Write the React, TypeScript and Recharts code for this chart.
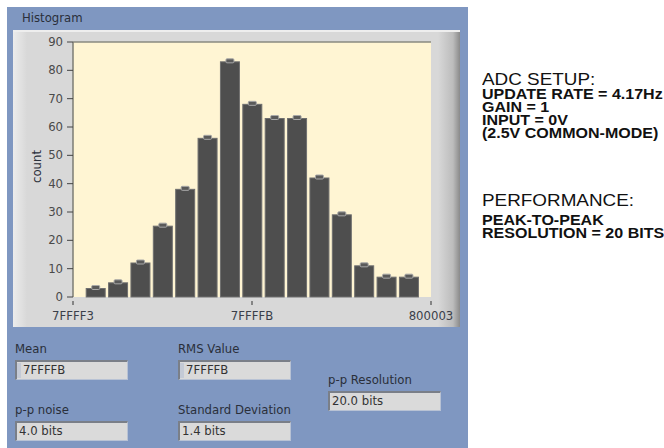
import { BarChart, Bar, XAxis, YAxis, CartesianGrid, ReferenceLine } from 'recharts';

// output codes (hex) and how many samples landed on each
const codes = ['7FFFF4', '7FFFF5', '7FFFF6', '7FFFF7', '7FFFF8', '7FFFF9', '7FFFFA', '7FFFFB',
    '7FFFFC', '7FFFFD', '7FFFFE', '7FFFFF', '800000', '800001', '800002'];
const counts = [3, 5, 12, 25, 38, 56, 83, 68, 63, 63, 42, 29, 11, 7, 7];
const xTicks = ['7FFFF3', '7FFFFB', '800003'];
const yTicks = [0, 10, 20, 30, 40, 50, 60, 70, 80, 90];

const setupLines = ['UPDATE RATE = 4.17Hz', 'GAIN = 1', 'INPUT = 0V', '(2.5V COMMON-MODE)'];
const perfLines = ['PEAK-TO-PEAK', 'RESOLUTION = 20 BITS'];

const chartData = codes.map((c, i) => ({ code: parseInt(c, 16), count: counts[i] }));
const xTickValues = xTicks.map((t) => parseInt(t, 16));

// LabVIEW-ish panel font vs. the annotation font on the right
const uiFont = '"DejaVu Sans", Verdana, sans-serif';
const uiSize = 11.7;
const noteFont = '"Liberation Sans", Arial, sans-serif';

function BinBar(props: any) {
    const { x, y, width, height } = props;
    if (height <= 0) return null;
    const cx = x + width / 2;
    return (
        <g>
            <rect x={x} y={y} width={width} height={height} fill="#4e4e4e" stroke="#6f6f6f" strokeWidth={1} />
            <rect x={cx - 4} y={y - 3} width={8} height={4} rx={1} fill="#5a5a5a" stroke="#a8a8a8" strokeWidth={1} />
        </g>
    );
}

function CodeTick(props: any) {
    const { x, y, payload } = props;
    return (
        <g>
            <line x1={x} x2={x} y1={y + 4} y2={y + 8} stroke="#333" />
            <text x={x} y={y + 23} textAnchor="middle" fill="#3a3f4a" fontSize={uiSize} fontFamily={uiFont}>
                {payload.value.toString(16).toUpperCase()}
            </text>
        </g>
    );
}

function CountLabel(props: any) {
    const { viewBox } = props;
    const cx = viewBox.x + 24;
    const cy = viewBox.y + viewBox.height / 2 - 3;
    return (
        <text x={cx} y={cy} transform={`rotate(-90, ${cx}, ${cy})`} textAnchor="middle" dominantBaseline="central"
            fill="#2a2f3a" fontSize={uiSize} fontFamily={uiFont}>count</text>
    );
}

function Field({ left, top, label, value, spinner }: { left: number; top: number; label: string; value: string; spinner?: boolean }) {
    return (
        <>
            <div style={{ position: 'absolute', left, top, fontSize: uiSize, color: '#2a2f3a', fontFamily: uiFont }}>{label}</div>
            <div style={{
                position: 'absolute', left, top: top + 18, width: 113, height: 20, boxSizing: 'border-box',
                background: '#dadada', borderTop: '2px solid #7a7f88', borderLeft: '2px solid #7a7f88',
                borderRight: '1px solid #b8c2d4', borderBottom: '1px solid #b8c2d4',
                fontSize: uiSize, color: '#333', fontFamily: uiFont, lineHeight: '17px',
                paddingLeft: spinner ? 6 : 2,
            }}>
                {spinner && <span style={{ position: 'absolute', left: 0, top: 1, width: 4, height: 15, background: '#c4cad6' }} />}
                {value}
            </div>
        </>
    );
}

const headStyle = { fontSize: 17, lineHeight: '17px', transform: 'scaleX(1.11)', transformOrigin: 'left', whiteSpace: 'nowrap' as const };
const bodyStyle = { fontSize: 14, fontWeight: 'bold' as const, transform: 'scaleX(1.145)', transformOrigin: 'left', whiteSpace: 'nowrap' as const };

export default function App() {
    return (
        <div style={{ position: 'absolute', left: 0, top: 0, width: 664, height: 448, background: '#fff', overflow: 'hidden' }}>
            {/* blue LabVIEW panel */}
            <div style={{ position: 'absolute', left: 7, top: 7, width: 461, height: 441, background: '#7f97c1' }} />
            <div style={{ position: 'absolute', left: 22, top: 11, fontSize: uiSize, color: '#2a2f3a', fontFamily: uiFont }}>Histogram</div>
            <div style={{
                position: 'absolute', left: 13, top: 30, width: 447, height: 297,
                background: 'linear-gradient(to right, #ececec 0px, #d8d8d8 14px, #d8d8d8 425px, #bcbcbc 440px, #8a8a8a 447px)',
                boxShadow: 'inset 0 2px 0 #eeeeee',
            }} />
            <div style={{ position: 'absolute', left: 13, top: 30 }}>
                <BarChart width={447} height={297} data={chartData} margin={{ top: 12, right: 29, left: 0, bottom: 0 }}>
                    <CartesianGrid horizontal={false} vertical={false} fill="#fff5d3" stroke="none" />
                    <XAxis
                        dataKey="code"
                        type="number"
                        domain={[xTickValues[0], xTickValues[2]]}
                        ticks={xTickValues}
                        axisLine={false}
                        tickLine={false}
                        tickSize={0}
                        tickMargin={0}
                        tick={CodeTick}
                        height={30}
                        interval={0}
                    />
                    <YAxis
                        domain={[0, 90]}
                        ticks={yTicks}
                        width={60}
                        axisLine={{ stroke: '#7d7d75', strokeWidth: 1.5 }}
                        tickLine={{ stroke: '#444' }}
                        tickSize={6}
                        tickMargin={4}
                        tick={{ fill: '#4a4a4a', fontSize: uiSize, fontFamily: uiFont }}
                        label={{ content: CountLabel }}
                    />
                    <ReferenceLine y={90} stroke="#8a8a80" strokeWidth={1.5} />
                    <Bar dataKey="count" barSize={19} shape={BinBar} isAnimationActive={false} />
                </BarChart>
            </div>

            <Field left={15} top={342} label="Mean" value="7FFFFB" spinner />
            <Field left={178} top={342} label="RMS Value" value="7FFFFB" spinner />
            <Field left={15} top={403} label="p-p noise" value="4.0 bits" />
            <Field left={178} top={403} label="Standard Deviation" value="1.4 bits" />
            <Field left={328} top={373} label="p-p Resolution" value="20.0 bits" />

            <div style={{ position: 'absolute', left: 482, top: 71, fontFamily: noteFont, color: '#111', ...headStyle }}>ADC SETUP:</div>
            <div style={{ position: 'absolute', left: 482, top: 88, fontFamily: noteFont, color: '#111', lineHeight: '13px' }}>
                {setupLines.map((l) => (
                    <div key={l} style={bodyStyle}>{l}</div>
                ))}
            </div>
            <div style={{ position: 'absolute', left: 482, top: 192, fontFamily: noteFont, color: '#111', ...headStyle }}>PERFORMANCE:</div>
            <div style={{ position: 'absolute', left: 482, top: 214, fontFamily: noteFont, color: '#111', lineHeight: '13.3px' }}>
                {perfLines.map((l) => (
                    <div key={l} style={bodyStyle}>{l}</div>
                ))}
            </div>
        </div>
    );
}
